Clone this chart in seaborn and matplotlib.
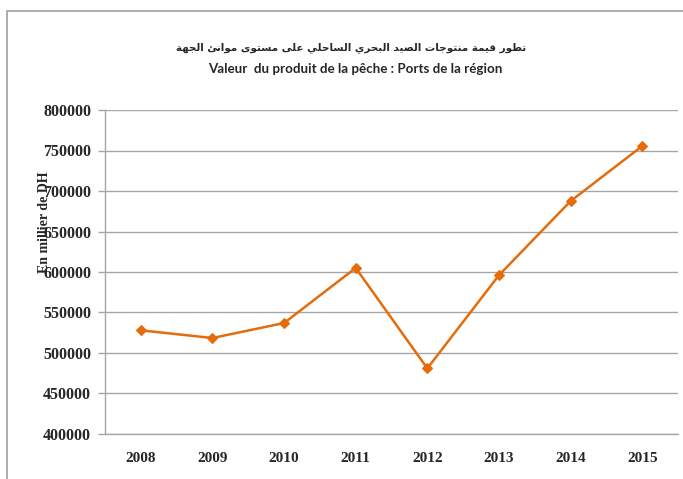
import numpy as np
import pandas as pd
import seaborn as sns
import matplotlib.pyplot as plt
from matplotlib.patches import Rectangle

years = ['2008', '2009', '2010', '2011', '2012', '2013', '2014', '2015']
valeurs = [528000, 518500, 537000, 605000, 481000, 596000, 687500, 755500]
y_ticks = [400000, 450000, 500000, 550000, 600000, 650000, 700000, 750000, 800000]

titre_ar = 'تطور قيمة منتوجات الصيد البحري الساحلي على مستوى موانئ الجهة'
titre_fr = 'Valeur  du produit de la pêche : Ports de la région'
label_y = 'En millier de DH'

# formes de presentation arabes (isolee, finale, initiale, mediane)
FORMS = {
    'ا': ('\uFE8D', '\uFE8E', None, None),
    'ب': ('\uFE8F', '\uFE90', '\uFE91', '\uFE92'),
    'ة': ('\uFE93', '\uFE94', None, None),
    'ت': ('\uFE95', '\uFE96', '\uFE97', '\uFE98'),
    'ج': ('\uFE9D', '\uFE9E', '\uFE9F', '\uFEA0'),
    'ح': ('\uFEA1', '\uFEA2', '\uFEA3', '\uFEA4'),
    'د': ('\uFEA9', '\uFEAA', None, None),
    'ر': ('\uFEAD', '\uFEAE', None, None),
    'س': ('\uFEB1', '\uFEB2', '\uFEB3', '\uFEB4'),
    'ص': ('\uFEB9', '\uFEBA', '\uFEBB', '\uFEBC'),
    'ط': ('\uFEC1', '\uFEC2', '\uFEC3', '\uFEC4'),
    'ع': ('\uFEC9', '\uFECA', '\uFECB', '\uFECC'),
    'ق': ('\uFED5', '\uFED6', '\uFED7', '\uFED8'),
    'ل': ('\uFEDD', '\uFEDE', '\uFEDF', '\uFEE0'),
    'م': ('\uFEE1', '\uFEE2', '\uFEE3', '\uFEE4'),
    'ن': ('\uFEE5', '\uFEE6', '\uFEE7', '\uFEE8'),
    'ه': ('\uFEE9', '\uFEEA', '\uFEEB', '\uFEEC'),
    'و': ('\uFEED', '\uFEEE', None, None),
    'ى': ('\uFEEF', '\uFEF0', None, None),
    'ي': ('\uFEF1', '\uFEF2', '\uFEF3', '\uFEF4'),
    'ئ': ('\uFE89', '\uFE8A', '\uFE8B', '\uFE8C'),
}


def shape_ar(txt):
    out = []
    for i, c in enumerate(txt):
        if c not in FORMS:
            out.append(c)
            continue
        prev = txt[i - 1] if i > 0 else ''
        nxt = txt[i + 1] if i < len(txt) - 1 else ''
        j_prev = prev in FORMS and FORMS[prev][2] is not None
        j_next = nxt in FORMS and FORMS[c][2] is not None
        iso, fin, ini, med = FORMS[c]
        if j_prev and j_next:
            out.append(med)
        elif j_prev:
            out.append(fin)
        elif j_next:
            out.append(ini)
        else:
            out.append(iso)
    return ''.join(out)[::-1]


df = pd.DataFrame({'annee': years, 'valeur': valeurs})

sns.set_style('white')
fig = plt.figure(figsize=(6.83, 4.79), dpi=100)
ax = fig.add_axes([105 / 683, 45 / 479, 573 / 683, 324 / 479])

sns.lineplot(data=df, x='annee', y='valeur', ax=ax, color='#E46C0A', linewidth=1.8,
             marker='D', markersize=5.5, markeredgewidth=0.8, markeredgecolor='#E46C0A')

ax.set_xlim(-0.5, len(years) - 0.5)
ax.set_ylim(400000, 800000)
ax.set_yticks(y_ticks)
ax.set_yticklabels([str(v) for v in y_ticks])
ax.yaxis.grid(True, color='#a6a6a6', linewidth=1)
ax.set_axisbelow(True)

for s in ['top', 'right']:
    ax.spines[s].set_visible(False)
for s in ['left', 'bottom']:
    ax.spines[s].set_color('#a6a6a6')
    ax.spines[s].set_linewidth(1)

ax.set_xticks(np.arange(len(years)))
ax.set_xticks(np.arange(len(years) + 1) - 0.5, minor=True)
ax.tick_params(axis='x', which='major', length=0, pad=13)
ax.tick_params(axis='x', which='minor', length=4, color='#a6a6a6', width=1, direction='out')
ax.tick_params(axis='y', length=5, color='#a6a6a6', width=1, direction='out', pad=5, left=True)

for lab in ax.get_xticklabels():
    lab.set_fontfamily('Liberation Serif')
    lab.set_fontweight('bold')
    lab.set_fontsize(11)
for lab in ax.get_yticklabels():
    lab.set_fontfamily('Liberation Serif')
    lab.set_fontweight('bold')
    lab.set_fontsize(11.5)

ax.set_xlabel('')
ax.set_ylabel('')
fig.text(44 / 683, 1 - 222 / 479, label_y, rotation=90, ha='center', va='center',
         fontfamily='Liberation Serif', fontweight='bold', fontsize=10)

fig.text(351 / 683, 1 - 48 / 479, shape_ar(titre_ar), ha='center', va='center',
         fontfamily=['DejaVu Sans'], fontweight='bold', fontsize=7.5)
fig.text(355 / 683, 1 - 69 / 479, titre_fr, ha='center', va='center',
         fontfamily='Lato', fontweight='bold', fontsize=9.6)

fig.patches.append(Rectangle((7 / 683, -0.1), 1.2, 1 - 11 / 479 + 0.1, transform=fig.transFigure,
                             fill=False, edgecolor='#a0a0a0', linewidth=1.2))

fig.savefig('out.png', dpi=100)
